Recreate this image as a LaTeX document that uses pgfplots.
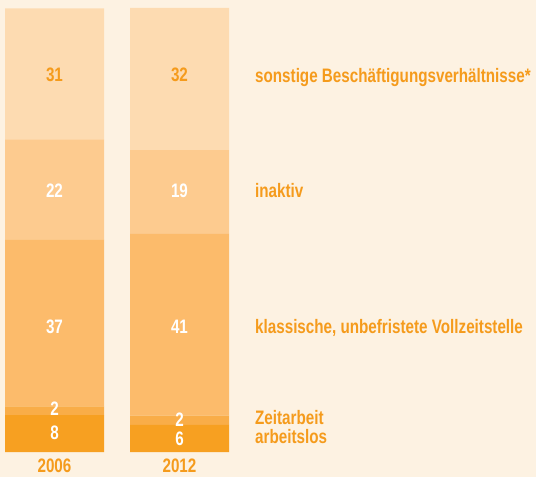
\documentclass[border=0pt]{standalone}
\usepackage{pgfplots}
\pgfplotsset{compat=1.18}
\usepackage{fontspec}
\setmainfont{Liberation Sans}[FakeStretch=0.78]
\definecolor{bg}{HTML}{FDF2E2}
\definecolor{cA}{HTML}{F7A021}
\definecolor{cB}{HTML}{F9AD48}
\definecolor{cC}{HTML}{FCBB6B}
\definecolor{cD}{HTML}{FDCB8F}
\definecolor{cE}{HTML}{FDDBB1}
\definecolor{txt}{HTML}{F59B1C}
\tikzset{
  lbl/.style={font=\bfseries\fontsize{19.5}{19.5}\selectfont, text=txt, anchor=west, inner sep=0pt, text height=14pt, text depth=0pt},
  num/.style={font=\bfseries\fontsize{19.5}{19.5}\selectfont, anchor=center, inner sep=0pt, text height=14pt, text depth=0pt},
}
\begin{document}
\begin{tikzpicture}
\fill[bg] (0,0) rectangle (536pt,477pt);
\begin{axis}[
  scale only axis, width=536pt, height=477pt,
  xmin=0, xmax=536, ymin=-5.63, ymax=101.8,
  axis lines=none, ticks=none,
  ybar stacked, bar width=99pt,
  clip=false,
]
\addplot[fill=cA, draw=none] coordinates {(54.5,8.3) (179.5,6.1)};
\addplot[fill=cB, draw=none] coordinates {(54.5,2.0) (179.5,2.1)};
\addplot[fill=cC, draw=none] coordinates {(54.5,37.6) (179.5,40.9)};
\addplot[fill=cD, draw=none] coordinates {(54.5,22.5) (179.5,18.9)};
\addplot[fill=cE, draw=none] coordinates {(54.5,29.5) (179.5,32.0)};
\coordinate (a5) at (axis cs:54.5,85.1);
\coordinate (a4) at (axis cs:54.5,59.0);
\coordinate (a3) at (axis cs:54.5,28.2);
\coordinate (a2) at (axis cs:54.5,9.7);
\coordinate (a1) at (axis cs:54.5,4.3);
\coordinate (b5) at (axis cs:179.5,85.1);
\coordinate (b4) at (axis cs:179.5,59.0);
\coordinate (b3) at (axis cs:179.5,28.2);
\coordinate (b2) at (axis cs:179.5,7.4);
\coordinate (b1) at (axis cs:179.5,3.15);
\coordinate (ya) at (axis cs:54.5,-3.15);
\coordinate (yb) at (axis cs:179.5,-3.15);
\coordinate (l5) at (axis cs:255,84.7);
\coordinate (l4) at (axis cs:255,59.0);
\coordinate (l3) at (axis cs:255,28.2);
\coordinate (l2) at (axis cs:255,7.66);
\coordinate (l1) at (axis cs:255,3.4);
\end{axis}
% segment values
\node[num, text=txt] at (a5) {31};
\node[num, text=white] at (a4) {22};
\node[num, text=white] at (a3) {37};
\node[num, text=white] at (a2) {2};
\node[num, text=white] at (a1) {8};
\node[num, text=txt] at (b5) {32};
\node[num, text=white] at (b4) {19};
\node[num, text=white] at (b3) {41};
\node[num, text=white] at (b2) {2};
\node[num, text=white] at (b1) {6};
% years
\node[num, text=txt] at (ya) {2006};
\node[num, text=txt] at (yb) {2012};
% category labels
\node[lbl] at (l5) {sonstige Beschäftigungsverhältnisse*};
\node[lbl] at (l4) {inaktiv};
\node[lbl] at (l3) {klassische, unbefristete Vollzeitstelle};
\node[lbl] at (l2) {Zeitarbeit};
\node[lbl] at (l1) {arbeitslos};
\end{tikzpicture}
\end{document}
